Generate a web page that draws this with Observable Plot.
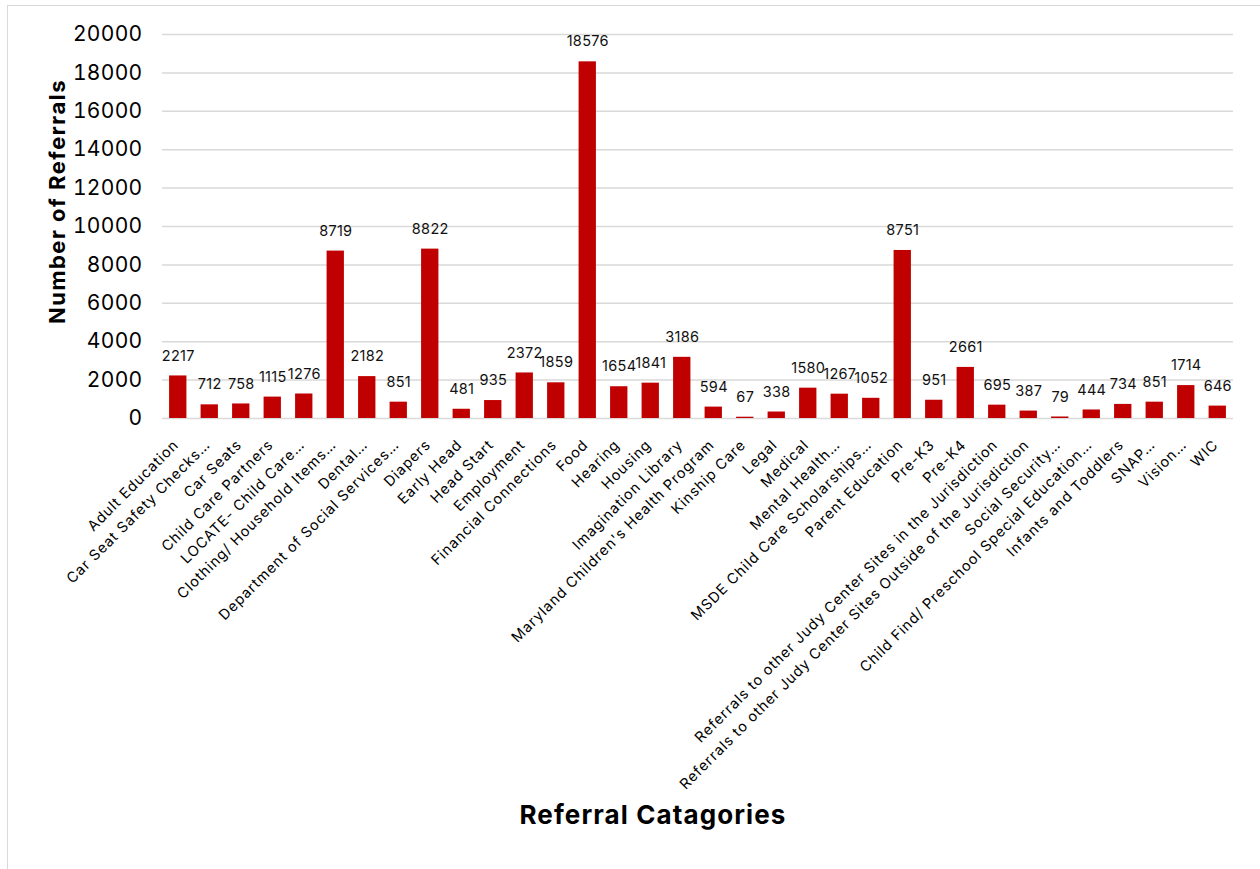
<!DOCTYPE html>
<html><head><meta charset="utf-8">
<script src="https://cdn.jsdelivr.net/npm/d3@7"></script>
<script src="https://cdn.jsdelivr.net/npm/@observablehq/plot@0.6"></script>
<style>
body{margin:0;background:#fff;font-family:Inter,"Open Sans",sans-serif;}
#wrap{position:relative;width:1260px;height:869px;overflow:hidden}
#frame{position:absolute;left:7px;top:5px;width:1300px;height:900px;border:1.5px solid #d9d9d9;box-sizing:border-box}
#chart{position:absolute;left:0;top:0}
</style></head><body><div id="wrap"><div id="frame"></div><div id="chart"></div></div>
<script>
const categories = [
  "Adult Education",
  "Car Seat Safety Checks…",
  "Car Seats",
  "Child Care Partners",
  "LOCATE- Child Care…",
  "Clothing/ Household Items…",
  "Dental…",
  "Department of Social Services…",
  "Diapers",
  "Early Head",
  "Head Start",
  "Employment",
  "Financial Connections",
  "Food",
  "Hearing",
  "Housing",
  "Imagination Library",
  "Maryland Children's Health Program",
  "Kinship Care",
  "Legal",
  "Medical",
  "Mental Health…",
  "MSDE Child Care Scholarships…",
  "Parent Education",
  "Pre-K3",
  "Pre-K4",
  "Referrals to other Judy Center Sites in the Jurisdiction",
  "Referrals to other Judy Center Sites Outside of the Jurisdiction",
  "Social Security…",
  "Child Find/ Preschool Special Education…",
  "Infants and Toddlers",
  "SNAP…",
  "Vision…",
  "WIC"
];
const referrals = [2217, 712, 758, 1115, 1276, 8719, 2182, 851, 8822, 481, 935, 2372, 1859, 18576, 1654, 1841, 3186, 594, 67, 338, 1580, 1267, 1052, 8751, 951, 2661, 695, 387, 79, 444, 734, 851, 1714, 646];
const yTicks = [0, 2000, 4000, 6000, 8000, 10000, 12000, 14000, 16000, 18000, 20000];
const xTitle = "Referral Catagories";
const yTitle = "Number of Referrals";

const data = categories.map((c, i) => ({category: c, value: referrals[i]}));
const font = "Inter, 'Open Sans', sans-serif";

const chart = Plot.plot({
  width: 1260,
  height: 869,
  marginLeft: 162,
  marginRight: 27,
  marginTop: 34,
  marginBottom: 451,
  style: {fontFamily: font, background: "transparent", color: "#000", overflow: "visible"},
  x: {domain: categories, paddingInner: 0.45, paddingOuter: 0.225, round: false, label: null},
  y: {domain: [0, 20000], label: null},
  marks: [
    Plot.ruleY(yTicks, {stroke: "#d9d9d9", strokeWidth: 1.5}),
    Plot.barY(data, {x: "category", y: "value", fill: "#C00000"}),
    Plot.text(data, {x: "category", y: "value", text: d => String(d.value), dy: -20, fontSize: 14.5, fill: "#111", className: "vlab"}),
    Plot.axisY({ticks: yTicks, tickSize: 0, tickPadding: 20, fontSize: 21, tickFormat: d => String(d), label: null}),
    Plot.axisX({tickSize: 0, tickPadding: 24, tickRotate: -45, fontSize: 14.5, dx: -2, label: null}),
    Plot.text([yTitle], {frameAnchor: "left", textAnchor: "middle", lineAnchor: "middle", dx: -105, dy: -25, rotate: -90, fontSize: 22, fontWeight: 700, fill: "#000", className: "ytitle"}),
    Plot.text([xTitle], {frameAnchor: "bottom", textAnchor: "middle", lineAnchor: "middle", dx: -45, dy: 397, fontSize: 26, fontWeight: 700, fill: "#000", className: "xtitle"})
  ]
});
document.getElementById("chart").appendChild(chart);

const setLS = (sel, v) => chart.querySelectorAll(sel).forEach(t => t.setAttribute("letter-spacing", v));
setLS('g[aria-label="x-axis tick label"] text', "0.9");
setLS('g[aria-label="y-axis tick label"] text', "0.3");
setLS('.vlab text', "0.3");
setLS('.ytitle text', "1.5");
setLS('.xtitle text', "1.1");
</script>
</body></html>
